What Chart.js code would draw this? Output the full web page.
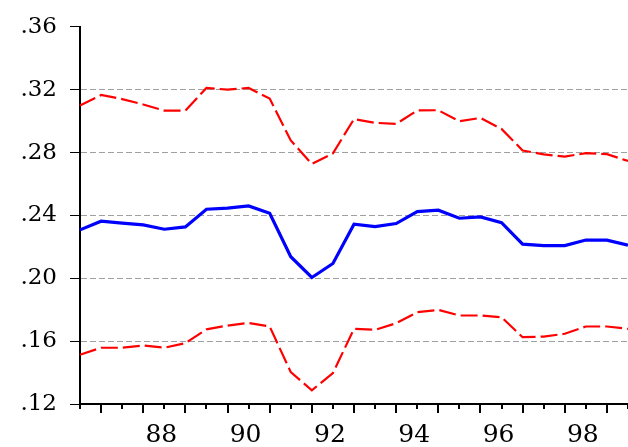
<!DOCTYPE html>
<html>
<head>
<meta charset="utf-8">
<script src="https://cdn.jsdelivr.net/npm/chart.js@4/dist/chart.umd.min.js"></script>
<style>
  html, body { margin: 0; padding: 0; background: #ffffff; }
  #wrap { width: 628px; height: 447px; }
</style>
</head>
<body>
<div id="wrap"><canvas id="c" width="628" height="447"></canvas></div>
<script>
// Semiannual periods, 1986S1 .. 1999S1
const periods = [
  '1986S1','1986S2','1987S1','1987S2','1988S1','1988S2','1989S1','1989S2',
  '1990S1','1990S2','1991S1','1991S2','1992S1','1992S2','1993S1','1993S2',
  '1994S1','1994S2','1995S1','1995S2','1996S1','1996S2','1997S1','1997S2',
  '1998S1','1998S2','1999S1'
];

// Years that carry a label on the horizontal axis
const xTickLabels = ['88', '90', '92', '94', '96', '98'];

// Vertical axis ticks
const yTickValues = [0.12, 0.16, 0.20, 0.24, 0.28, 0.32, 0.36];

// Point estimate
const estimate = [
  0.2308, 0.2363, 0.2351, 0.2340, 0.2312, 0.2327, 0.2439, 0.2446, 0.2460,
  0.2414, 0.2137, 0.2005, 0.2094, 0.2344, 0.2329, 0.2348, 0.2424, 0.2433,
  0.2382, 0.2390, 0.2354, 0.2217, 0.2208, 0.2208, 0.2243, 0.2243, 0.2211
];

// Upper band
const upperBand = [
  0.3099, 0.3166, 0.3140, 0.3106, 0.3067, 0.3067, 0.3211, 0.3200, 0.3211,
  0.3143, 0.2877, 0.2727, 0.2795, 0.3013, 0.2989, 0.2982, 0.3068, 0.3069,
  0.2999, 0.3020, 0.2950, 0.2813, 0.2788, 0.2774, 0.2796, 0.2790, 0.2746
];

// Lower band
const lowerBand = [
  0.1513, 0.1558, 0.1558, 0.1572, 0.1558, 0.1587, 0.1675, 0.1699, 0.1716,
  0.1693, 0.1403, 0.1287, 0.1397, 0.1678, 0.1672, 0.1714, 0.1784, 0.1799,
  0.1763, 0.1763, 0.1752, 0.1625, 0.1629, 0.1647, 0.1693, 0.1693, 0.1678
];

const fmtTick = v => {
  const s = Number(v).toFixed(2);
  return s.startsWith('0') ? s.slice(1) : s;
};

// Tick marks on the time axis: short at each period, long at every second one
const periodTicks = {
  id: 'periodTicks',
  afterDraw(chart) {
    const xs = chart.scales.x;
    const ctx = chart.ctx;
    const y0 = chart.chartArea.bottom;
    ctx.save();
    ctx.strokeStyle = '#000000';
    ctx.lineWidth = 2;
    periods.forEach((p, i) => {
      const x = Math.round(xs.getPixelForValue(i));
      const len = (i % 2 === 1) ? 9 : 5;
      ctx.beginPath();
      ctx.moveTo(x, y0);
      ctx.lineTo(x, y0 + len);
      ctx.stroke();
    });
    ctx.restore();
  }
};

const whiteBg = {
  id: 'whiteBg',
  beforeDraw(chart) {
    const ctx = chart.ctx;
    ctx.save();
    ctx.fillStyle = '#ffffff';
    ctx.fillRect(0, 0, chart.width, chart.height);
    ctx.restore();
  }
};

new Chart(document.getElementById('c'), {
  type: 'line',
  data: {
    labels: periods,
    datasets: [
      {
        data: upperBand,
        borderColor: '#ff0000',
        borderWidth: 2.2,
        borderDash: [17, 5],
        pointRadius: 0,
        tension: 0,
        fill: false
      },
      {
        data: estimate,
        borderColor: '#0000ff',
        borderWidth: 3.2,
        pointRadius: 0,
        tension: 0,
        fill: false
      },
      {
        data: lowerBand,
        borderColor: '#ff0000',
        borderWidth: 2.2,
        borderDash: [17, 5],
        pointRadius: 0,
        tension: 0,
        fill: false
      }
    ]
  },
  options: {
    responsive: false,
    animation: false,
    devicePixelRatio: 1,
    layout: { padding: { top: 25, right: 0, left: 0, bottom: 0 } },
    plugins: {
      legend: { display: false },
      tooltip: { enabled: false }
    },
    scales: {
      x: {
        type: 'category',
        offset: false,
        grid: { display: false },
        border: { display: true, color: '#000000', width: 2 },
        ticks: {
          autoSkip: false,
          maxRotation: 0,
          minRotation: 0,
          padding: 8,
          labelOffset: -3,
          color: '#000000',
          font: { family: 'DejaVu Serif', size: 25 },
          callback: (val, i) => {
            const p = periods[i];
            const yy = p.slice(2, 4);
            return (p.endsWith('S1') && xTickLabels.includes(yy)) ? yy : '';
          }
        },
        afterFit: s => { s.height = 43; s.paddingRight = 0; s.paddingLeft = 0; }
      },
      y: {
        min: 0.12,
        max: 0.36,
        afterBuildTicks: s => { s.ticks = yTickValues.map(v => ({ value: v })); },
        grid: {
          display: true,
          drawTicks: true,
          tickLength: 10,
          lineWidth: 1,
          color: c => (c.tick && (c.tick.value <= 0.12001 || c.tick.value >= 0.35999)) ? 'rgba(0,0,0,0)' : '#a0a0a0',
          tickColor: '#000000',
          tickBorderDash: [],
          tickWidth: 1
        },
        border: { display: true, color: '#000000', width: 2, dash: [6, 3] },
        ticks: {
          padding: 13,
          color: '#000000',
          font: { family: 'DejaVu Serif', size: 23 },
          callback: v => fmtTick(v)
        },
        afterFit: s => { s.width = 80; }
      }
    }
  },
  plugins: [whiteBg, periodTicks]
});
</script>
</body>
</html>
